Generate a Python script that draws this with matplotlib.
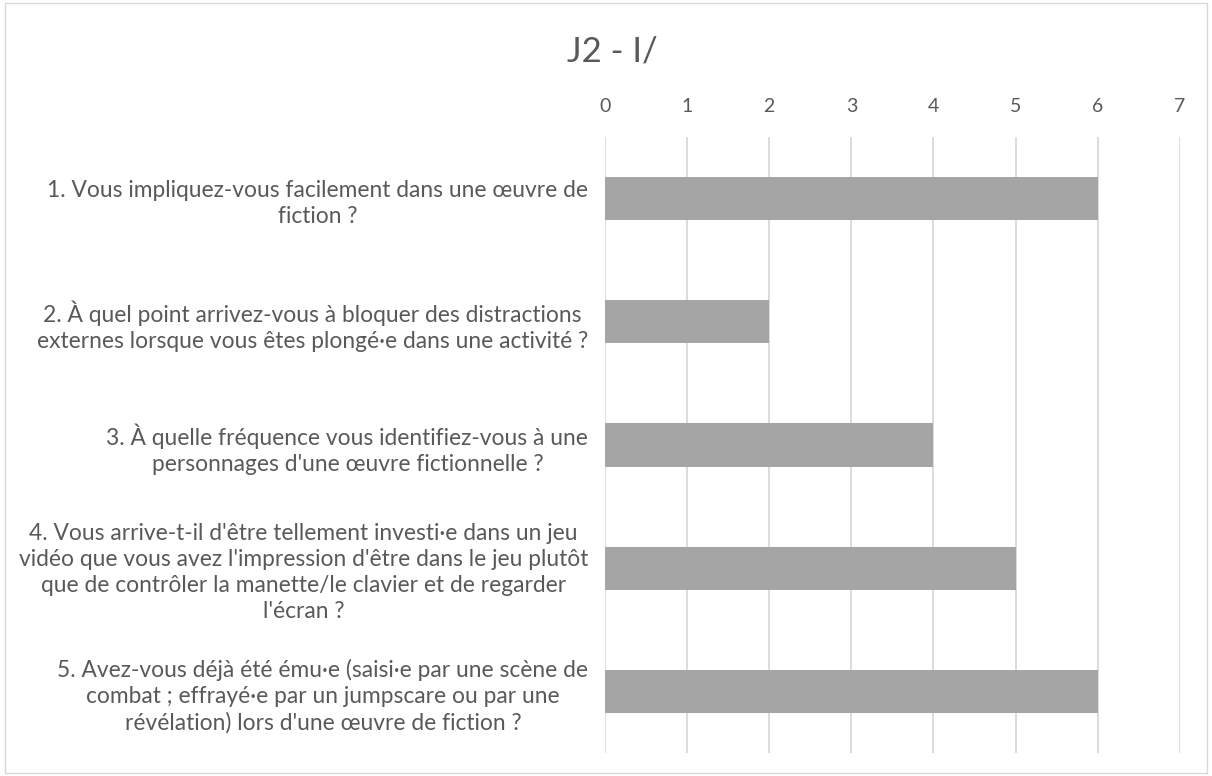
import matplotlib.pyplot as plt
from matplotlib.patches import Rectangle

# questions (top to bottom) and number of answers
questions = [
    "1. Vous impliquez-vous facilement dans une œuvre de\nfiction ?",
    "2. À quel point arrivez-vous à bloquer des distractions\nexternes lorsque vous êtes plongé·e dans une activité ?",
    "3. À quelle fréquence vous identifiez-vous à une\npersonnages d'une œuvre fictionnelle ?",
    "4. Vous arrive-t-il d'être tellement investi·e dans un jeu\nvidéo que vous avez l'impression d'être dans le jeu plutôt\nque de contrôler la manette/le clavier et de regarder\nl'écran ?",
    "5. Avez-vous déjà été ému·e (saisi·e par une scène de\ncombat ; effrayé·e par un jumpscare ou par une\nrévélation) lors d'une œuvre de fiction ?",
]
counts = [6, 2, 4, 5, 6]
xticks = [0, 1, 2, 3, 4, 5, 6, 7]

plt.rcParams['font.family'] = ['Lato', 'DejaVu Sans']
txt = '#595959'

fig = plt.figure(figsize=(12.12, 7.76), dpi=100)
ax = fig.add_axes([0.4992, 0.0296, 0.4742, 0.7938])

pos = list(range(len(questions)))
ax.barh(pos, counts, height=0.35, color='#A5A5A5', zorder=3)
ax.set_ylim(len(questions) - 0.5, -0.5)
ax.set_xlim(0, 7)
ax.set_xticks(xticks)
ax.xaxis.tick_top()
ax.tick_params(axis='x', length=0, pad=16, labelsize=14, labelcolor=txt)
ax.set_yticks(pos)
ax.set_yticklabels(questions, fontsize=16.4, color=txt, multialignment='center',
                   linespacing=1.3)
ax.tick_params(axis='y', length=0, pad=12)
ax.grid(axis='x', color='#D9D9D9', linewidth=1.3, zorder=0)
for s in ax.spines.values():
    s.set_visible(False)

fig.text(0.505, 0.934, 'J2 - I/', ha='center', va='center', fontsize=25, color=txt)

# light border round the chart
fig.patches.append(Rectangle((0.004, 0.004), 0.992, 0.992, transform=fig.transFigure,
                             fill=False, edgecolor='#D9D9D9', linewidth=1))

plt.savefig('out.png', dpi=100)
